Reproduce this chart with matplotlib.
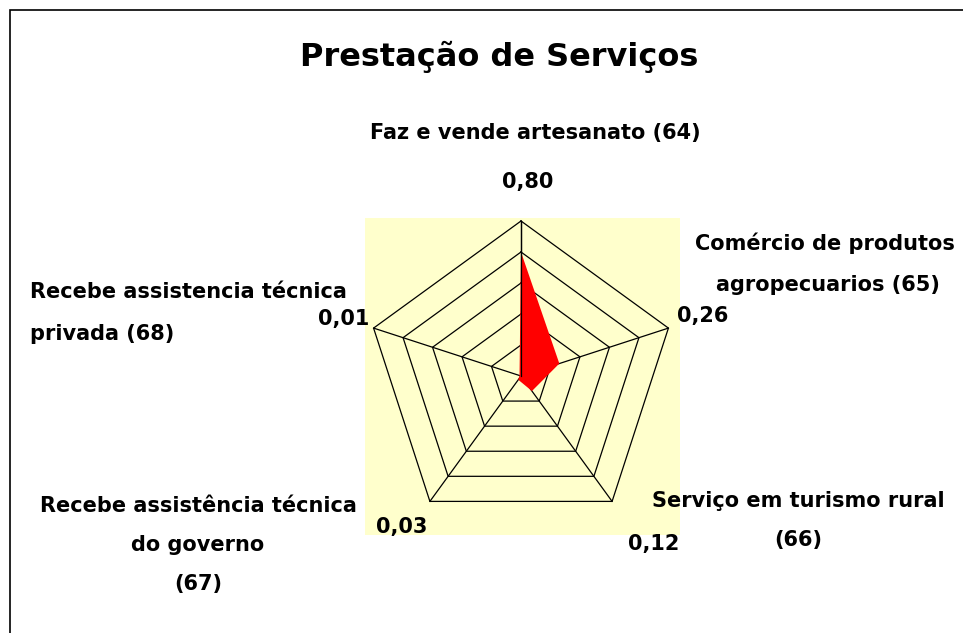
import numpy as np
import matplotlib.pyplot as plt
from matplotlib.patches import Rectangle

# data
categorias = ["Faz e vende artesanato (64)", "Comércio de produtos\nagropecuarios (65)",
              "Serviço em turismo rural\n(66)", "Recebe assistência técnica\ndo governo\n(67)",
              "Recebe assistencia técnica\nprivada (68)"]
valores = [0.80, 0.26, 0.12, 0.03, 0.01]
rotulos = ["0,80", "0,26", "0,12", "0,03", "0,01"]
aneis = [0.2, 0.4, 0.6, 0.8, 1.0]

W, H = 963, 633
fig = plt.figure(figsize=(W / 100, H / 100), dpi=100)
fig.patch.set_facecolor("white")

def fx(px):
    return px / W

def fy(py):
    return 1 - py / H

# frame of the slide
fig.patches.append(Rectangle((fx(10), fy(640)), 1.2, fy(10) - fy(640), transform=fig.transFigure,
                             fill=False, edgecolor="black", linewidth=1.2))

# radar area (pale yellow square)
ax = fig.add_axes([fx(365), fy(535), fx(680) - fx(365), fy(218) - fy(535)])
ax.set_facecolor("#FFFFCC")
r_px = 155.0
ax.set_xlim(-156 / r_px, 159 / r_px)
ax.set_ylim(-159 / r_px, 158 / r_px)
ax.set_xticks([])
ax.set_yticks([])
for s in ax.spines.values():
    s.set_visible(False)

n = len(valores)
ang = np.pi / 2 - 2 * np.pi * np.arange(n) / n
cx, cy = np.cos(ang), np.sin(ang)

for r in aneis:
    ax.plot(np.append(cx, cx[0]) * r, np.append(cy, cy[0]) * r, color="black", lw=0.9)
for i in range(n):
    ax.plot([0, cx[i]], [0, cy[i]], color="black", lw=0.9)

v = np.array(valores)
ax.fill(cx * v, cy * v, color="#FF0000", lw=0, zorder=3)
ax.plot([0, cx[0]], [0, cy[0]], color="black", lw=0.9, zorder=4)

fs = 15
kw = dict(fontsize=fs, fontweight="bold", family="DejaVu Sans")

fig.text(fx(499), fy(57), "Prestação de Serviços", fontsize=23, fontweight="bold",
         family="DejaVu Sans", ha="center", va="center")

# category labels, one text per line
def linhas(txt, x, ys, ha):
    for linha, y in zip(txt.split("\n"), ys):
        fig.text(fx(x), fy(y), linha, ha=ha, va="center", **kw)

fig.text(fx(535), fy(133), categorias[0], ha="center", va="center", **kw)
l1, l2 = categorias[1].split("\n")
fig.text(fx(955), fy(243), l1, ha="right", va="center", **kw)
fig.text(fx(940), fy(285), l2, ha="right", va="center", **kw)
linhas(categorias[2], 798, [501, 540], "center")
linhas(categorias[3], 198, [506, 545, 584], "center")
linhas(categorias[4], 30, [292, 334], "left")

# value labels
fig.text(fx(528), fy(182), rotulos[0], ha="center", va="center", **kw)
fig.text(fx(703), fy(316), rotulos[1], ha="center", va="center", **kw)
fig.text(fx(654), fy(544), rotulos[2], ha="center", va="center", **kw)
fig.text(fx(402), fy(527), rotulos[3], ha="center", va="center", **kw)
fig.text(fx(369), fy(319), rotulos[4], ha="right", va="center", **kw)

fig.savefig("out.png", dpi=100)
